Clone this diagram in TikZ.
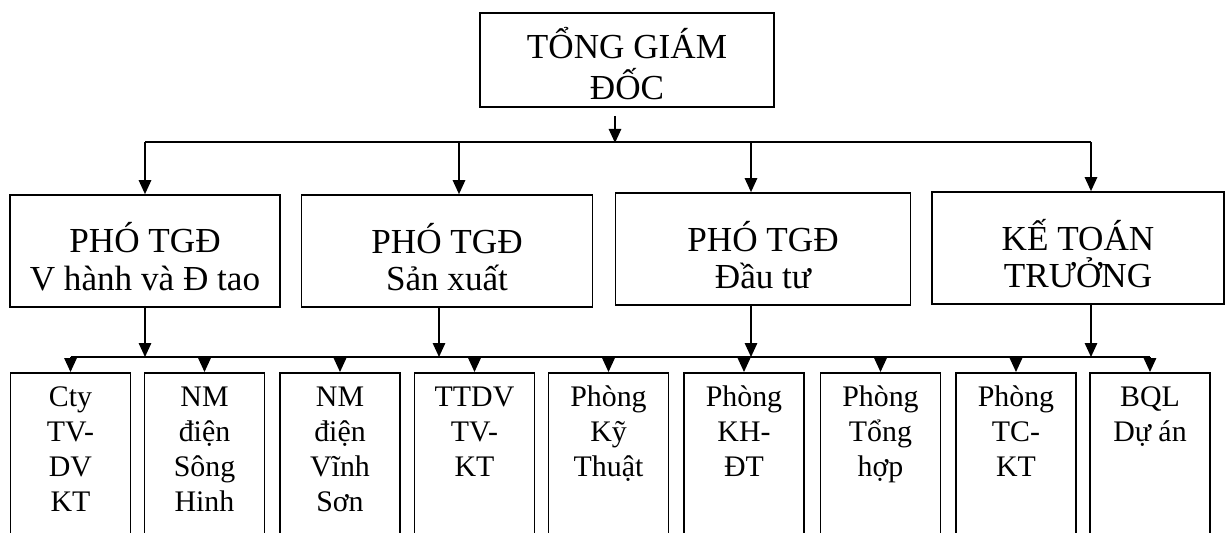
\documentclass[tikz,border=0pt]{standalone}
\usepackage{fontspec}
\setmainfont{Liberation Serif}
\usetikzlibrary{positioning,arrows.meta,calc}

\tikzset{
  box/.style={draw, line width=1pt, align=center, inner sep=0pt},
  unitbox/.style={draw, line width=1pt, anchor=north, inner xsep=0pt, inner ysep=0.26cm},
  conn/.style={-{Triangle[length=0.28cm,width=0.25cm]}, line width=0.8pt},
  bus/.style={line width=1pt},
}

\begin{document}
\begin{tikzpicture}[x=0.02cm, y=-0.02cm]
\clip (0,0) rectangle (1225,532);

% Top
\node[box, minimum width=5.88cm, minimum height=1.88cm,
      font=\fontsize{20}{23.5}\selectfont] (tgd) at (627,60) {\rule{0pt}{22pt}TỔNG GIÁM\\ĐỐC};

% Deputies
\begin{scope}[every node/.style={box, minimum height=2.24cm, font=\fontsize{20}{21.5}\selectfont}]
\node[minimum width=5.4cm]  (vhanh)   at (145,251)  {\rule{0pt}{24pt}PHÓ TGĐ\\V hành và Đ tao};
\node[minimum width=5.82cm] (sanxuat) at (447,251)  {\rule{0pt}{24pt}PHÓ TGĐ\\Sản xuất};
\node[minimum width=5.9cm]  (dautu)   at (763,249)  {\rule{0pt}{24pt}PHÓ TGĐ\\Đầu tư};
\node[minimum width=5.84cm] (ketoan)  at (1078,248) {\rule{0pt}{24pt}KẾ TOÁN\\TRƯỞNG};
\end{scope}

% Units
\foreach \x/\n/\txt in {70.5/cty/{Cty\\TV-\\DV\\KT},
    204.5/songhinh/{NM\\điện\\Sông\\Hinh},
    340/vinhson/{NM\\điện\\Vĩnh\\Sơn},
    474.5/ttdv/{TTDV\\TV-\\KT},
    608.5/kythuat/{Phòng\\Kỹ\\Thuật},
    744/khdt/{Phòng\\KH-\\ĐT},
    880.5/tonghop/{Phòng\\Tổng\\hợp},
    1016/tckt/{Phòng\\TC-\\KT},
    1150/bql/{BQL\\Dự án}} {
  \node[unitbox] (\n) at (\x,372)
    {\parbox[t][3.4cm][t]{2.4cm}{\centering\fontsize{17}{19.8}\selectfont\rule{0pt}{12pt}\txt}};
}

% Bus lines
\coordinate (busA) at (0,142);
\coordinate (busB) at (0,357);

\draw[conn, shorten <=0.16cm] ($(tgd.south)+(-12,0)$) -- ($(tgd.south)+(-12,35)$);
\draw[bus] (vhanh.north |- busA) -- ($(ketoan.north |- busA)+(13,0)$);
\draw[conn] (vhanh.north |- busA) -- (vhanh.north);
\draw[conn] ($(sanxuat.north |- busA)+(12,0)$) -- ($(sanxuat.north)+(12,0)$);
\draw[conn] ($(dautu.north |- busA)+(-12,0)$) -- ($(dautu.north)+(-12,0)$);
\draw[conn] ($(ketoan.north |- busA)+(13,0)$) -- ($(ketoan.north)+(13,0)$);

\draw[conn] (vhanh.south) -- (vhanh.south |- busB);
\draw[conn] ($(sanxuat.south)+(-8,0)$) -- ($(sanxuat.south |- busB)+(-8,0)$);
\draw[conn] ($(dautu.south)+(-12,0)$) -- ($(dautu.south |- busB)+(-12,0)$);
\draw[conn] ($(ketoan.south)+(13,0)$) -- ($(ketoan.south |- busB)+(13,0)$);

\draw[bus] (cty.north |- busB) -- (bql.north |- busB);
\foreach \n in {cty,songhinh,vinhson,ttdv,kythuat,khdt,tonghop,tckt,bql}
  \draw[conn] (\n.north |- busB) -- (\n.north);

\end{tikzpicture}
\end{document}
